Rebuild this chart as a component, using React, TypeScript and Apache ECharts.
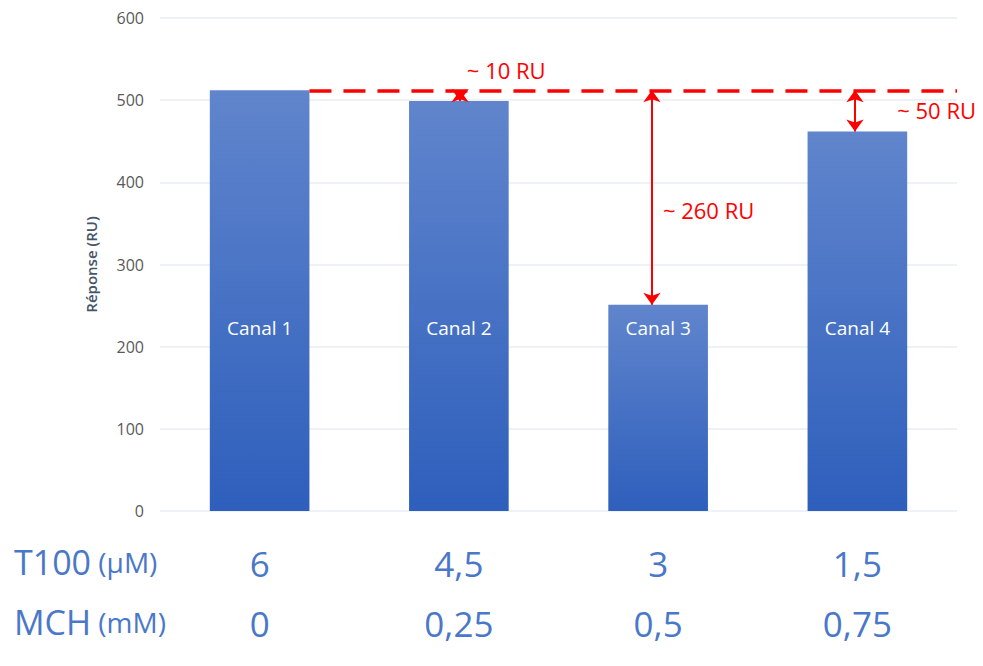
import React, { useEffect, useRef } from "react";
import * as echarts from "echarts";

const categories = ["Canal 1", "Canal 2", "Canal 3", "Canal 4"];
const responses = [512, 499, 251, 462];
const t100 = ["6", "4,5", "3", "1,5"];
const mch = ["0", "0,25", "0,5", "0,75"];
const yTicks = { min: 0, max: 600, interval: 100 };
const referenceLevel = 512;
// arrows: [x position in category units, from, to]
const arrows: [number, number, number][] = [
  [1.506, 512, 499],
  [2.469, 512, 251],
  [3.488, 512, 462],
];
const notes: [number, number, string][] = [
  [1.54, 537, "~ 10 RU"],
  [2.524, 366, "~ 260 RU"],
  [3.7, 488, "~ 50 RU"],
];

const FONT = "Open Sans";
const BLUE_TEXT = "#4a78c8";

export default function App() {
  const ref = useRef<HTMLDivElement>(null);
  useEffect(() => {
    if (!ref.current) return;
    const chart = echarts.init(ref.current, undefined, { renderer: "svg" });
    chart.setOption({
      animation: false,
      textStyle: { fontFamily: FONT },
      grid: { left: 152, right: 26, top: 10, bottom: 155 },
      xAxis: [
        {
          type: "category",
          data: categories,
          axisLine: { show: false },
          axisTick: { show: false },
          axisLabel: {
            margin: 22,
            formatter: (_v: string, i: number) => `{a|${t100[i]}}\n{b|${mch[i]}}`,
            rich: {
              a: { fontSize: 35, lineHeight: 60, color: BLUE_TEXT, fontFamily: FONT },
              b: { fontSize: 35, lineHeight: 60, color: BLUE_TEXT, fontFamily: FONT },
            },
          },
        },
        { type: "value", min: 0, max: 4, show: false },
      ],
      yAxis: {
        type: "value",
        ...yTicks,
        name: "Réponse (RU)",
        nameLocation: "middle",
        nameGap: 62,
        nameTextStyle: { fontSize: 15, color: "#44546a", fontWeight: 600, fontFamily: FONT },
        axisLabel: { fontSize: 16, color: "#595959", margin: 16 },
        axisLine: { show: false },
        axisTick: { show: false },
        splitLine: { lineStyle: { color: "#e9edf2", width: 1.5 } },
      },
      series: [
        {
          type: "bar",
          data: responses,
          barWidth: "50%",
          itemStyle: {
            color: new echarts.graphic.LinearGradient(0, 0, 0, 1, [
              { offset: 0, color: "#6085cc" },
              { offset: 1, color: "#2e5fbc" },
            ]),
          },
          label: {
            show: true,
            position: "insideBottom",
            distance: 174,
            formatter: "{b}",
            color: "#ffffff",
            fontSize: 19,
            fontFamily: FONT,
          },
        },
        {
          type: "line",
          xAxisIndex: 1,
          data: [],
          markLine: {
            silent: true,
            animation: false,
            label: { show: false },
            data: [
              [
                { coord: [0.75, referenceLevel], symbol: "none" },
                { coord: [4, referenceLevel], symbol: "none" },
              ],
              ...arrows.map(([x, a, b]) => [
                { coord: [x, a], symbol: "arrow", symbolSize: [13, 12], lineStyle: { type: "solid", width: 2 } },
                { coord: [x, b], symbol: "arrow", symbolSize: [13, 12] },
              ]),
            ],
            lineStyle: { color: "#ff0000", type: [22, 12], width: 3.5 },
          },
          markPoint: {
            symbolSize: 0,
            silent: true,
            data: notes.map(([x, y, t]) => ({
              coord: [x, y],
              value: t,
              label: {
                show: true,
                position: "right",
                distance: 0,
                formatter: t,
                color: "#ff0000",
                fontSize: 22,
                fontFamily: FONT,
              },
            })),
          },
        },
      ],
      graphic: [
        {
          type: "text",
          left: 6,
          top: 537,
          style: {
            text: "{a|T100}{b| (µM)}",
            rich: {
              a: { fontSize: 34, fill: BLUE_TEXT, fontFamily: FONT },
              b: { fontSize: 28, fill: BLUE_TEXT, fontFamily: FONT },
            },
          },
        },
        {
          type: "text",
          left: 6,
          top: 597,
          style: {
            text: "{a|MCH}{b| (mM)}",
            rich: {
              a: { fontSize: 34, fill: BLUE_TEXT, fontFamily: FONT },
              b: { fontSize: 28, fill: BLUE_TEXT, fontFamily: FONT },
            },
          },
        },
      ],
    });
    return () => chart.dispose();
  }, []);
  return <div ref={ref} style={{ width: 975, height: 658 }} />;
}
